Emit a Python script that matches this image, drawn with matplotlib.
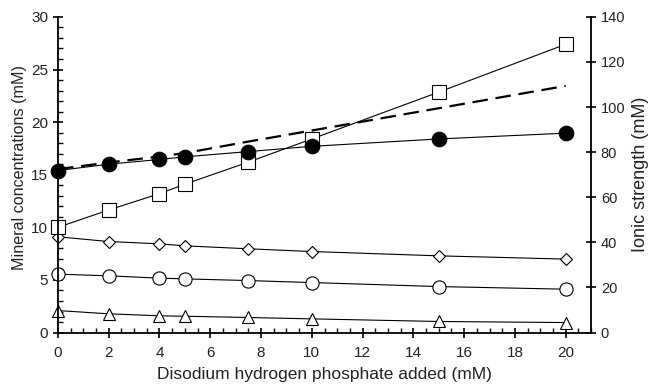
import matplotlib
matplotlib.use("Agg")
import matplotlib.pyplot as plt
from matplotlib.ticker import MultipleLocator

plt.rcParams['font.family'] = ['Liberation Sans', 'DejaVu Sans']

# Disodium hydrogen phosphate added (mM)
phosphate = [0, 2, 4, 5, 7.5, 10, 15, 20]

# mineral concentrations (mM), left axis
filled_circles = [15.4, 16.0, 16.45, 16.7, 17.2, 17.7, 18.4, 18.95]
squares = [10.0, 11.65, 13.2, 14.1, 16.2, 18.4, 22.85, 27.4]
diamonds = [9.1, 8.65, 8.43, 8.24, 7.96, 7.7, 7.29, 6.98]
circles = [5.55, 5.39, 5.17, 5.1, 4.94, 4.75, 4.37, 4.12]
triangles = [2.09, 1.78, 1.59, 1.55, 1.43, 1.3, 1.05, 0.95]

# ionic strength (mM), right axis
ionic_strength = [72.5, 75.4, 78.1, 79.6, 84.7, 89.6, 99.5, 109.4]

fig = plt.figure(figsize=(6.51, 3.84), dpi=100)
ax = fig.add_axes([0.089, 0.134, 0.819, 0.822])
ax2 = ax.twinx()

line_kw = dict(color='black', linewidth=0.8, markeredgecolor='black',
               markeredgewidth=0.8, clip_on=False)
ax.plot(phosphate, triangles, marker='^', markersize=8.5, markerfacecolor='white', **line_kw)
ax.plot(phosphate, circles, marker='o', markersize=9.5, markerfacecolor='white', **line_kw)
ax.plot(phosphate, diamonds, marker='D', markersize=6.5, markerfacecolor='white', **line_kw)
ax.plot(phosphate, squares, marker='s', markersize=9.5, markerfacecolor='white', **line_kw)
ax.plot(phosphate, filled_circles, marker='o', markersize=10.5, markerfacecolor='black', **line_kw)

ax2.plot(phosphate, ionic_strength, color='black', linewidth=1.6,
         linestyle=(0, (7, 3.5)), clip_on=False)

ax.set_xlim(0, 21)
ax.set_ylim(0, 30)
ax2.set_ylim(0, 140)

ax.xaxis.set_major_locator(MultipleLocator(2))
ax.xaxis.set_minor_locator(MultipleLocator(0.5))
ax.yaxis.set_major_locator(MultipleLocator(5))
ax.yaxis.set_minor_locator(MultipleLocator(1))
ax2.yaxis.set_major_locator(MultipleLocator(20))

for a in (ax, ax2):
    a.spines['top'].set_visible(False)
    for s in a.spines.values():
        s.set_linewidth(1.3)
ax.spines['right'].set_visible(False)
ax2.spines['left'].set_visible(False)
ax2.spines['bottom'].set_visible(False)

ax.tick_params(which='major', direction='inout', length=7, width=1.2,
               labelsize=11, colors='black', labelcolor='#222222')
ax.tick_params(axis='x', which='major', pad=6)
ax.tick_params(which='minor', direction='in', length=3.5, width=1.0)
ax2.tick_params(which='major', direction='inout', length=7, width=1.2,
                labelsize=10.5, labelcolor='#222222')

ax.set_xlabel('Disodium hydrogen phosphate added (mM)', fontsize=12.5,
              color='#222222', labelpad=5)
ax.set_ylabel('Mineral concentrations (mM)', fontsize=11.6, color='#222222', labelpad=3)
ax.yaxis.label.set_y(0.523)
ax2.set_ylabel('Ionic strength (mM)', fontsize=13, color='#222222', labelpad=5)

fig.savefig('out.png', dpi=100)
